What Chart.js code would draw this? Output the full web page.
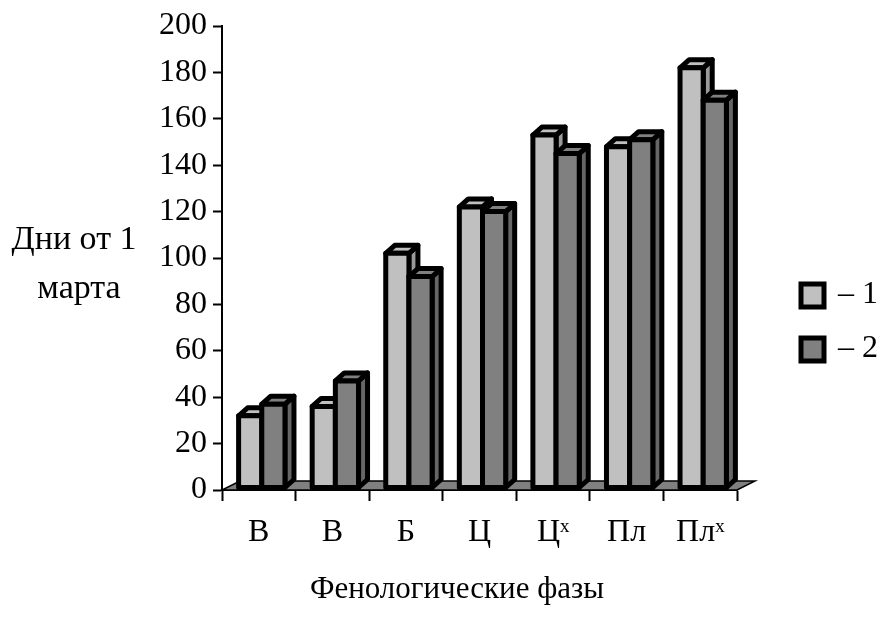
<!DOCTYPE html>
<html>
<head>
<meta charset="utf-8">
<script src="https://cdn.jsdelivr.net/npm/chart.js@4.4.0/dist/chart.umd.min.js"></script>
<style>
  html, body { margin: 0; padding: 0; background: #fff; }
</style>
</head>
<body>
<canvas id="chart" width="880" height="617"></canvas>
<script>
// data
const phases = ["В", "В", "Б", "Ц", "Цˣ", "Пл", "Плˣ"];
const series1 = [32, 36, 102, 122, 153, 148, 182];
const series2 = [37, 47, 92, 120, 145, 151, 168];
const seriesNames = ["– 1", "– 2"];
const yTitle = ["Дни от 1", "марта"];
const xTitle = "Фенологические фазы";

const serif = "'Liberation Serif', 'Times New Roman', serif";
const DX = 9, DY = 8;      // depth of the fake 3d boxes
const SHIFT = 3;
const FLOOR_DX = 18, FLOOR_DY = 9;

function darker(hex, f) {
  const n = parseInt(hex.slice(1), 16);
  const c = [(n >> 16) & 255, (n >> 8) & 255, n & 255].map(v => Math.round(v * f));
  return "rgb(" + c.join(",") + ")";
}

function poly(ctx, pts, fill) {
  ctx.beginPath();
  ctx.moveTo(pts[0][0], pts[0][1]);
  for (let i = 1; i < pts.length; i++) ctx.lineTo(pts[i][0], pts[i][1]);
  ctx.closePath();
  ctx.fillStyle = fill;
  ctx.fill();
  ctx.stroke();
}

const bars3d = {
  id: "bars3d",
  beforeDatasetsDraw(chart) {
    // grey floor under the columns
    const { ctx, chartArea: a } = chart;
    const y0 = chart.scales.y.getPixelForValue(0);
    ctx.save();
    ctx.lineWidth = 1.5;
    ctx.strokeStyle = "#000";
    poly(ctx, [[a.left, y0], [a.right, y0], [a.right + FLOOR_DX, y0 - FLOOR_DY], [a.left + FLOOR_DX, y0 - FLOOR_DY]], "#808080");
    ctx.restore();
  },
  beforeDatasetDraw() {
    return false; // columns are drawn below, one category at a time
  },
  afterDatasetsDraw(chart) {
    const ctx = chart.ctx;
    ctx.save();
    ctx.lineWidth = 5;
    ctx.strokeStyle = "#000";
    ctx.lineJoin = "round";
    chart.data.labels.forEach((lab, i) => {
      chart.data.datasets.forEach((ds, d) => {
        const bar = chart.getDatasetMeta(d).data[i];
        const { x, y, base, width } = bar.getProps(["x", "y", "base", "width"], true);
        const l = x - width / 2 + SHIFT, r = x + width / 2 + SHIFT;
        const b = base - 2;
        poly(ctx, [[r, y], [r + DX, y - DY], [r + DX, b - DY], [r, b]], darker(ds.backgroundColor, 0.8));
        poly(ctx, [[l, y], [l + DX, y - DY], [r + DX, y - DY], [r, y]], ds.backgroundColor);
        poly(ctx, [[l, y], [r, y], [r, b], [l, b]], ds.backgroundColor);
      });
    });
    ctx.restore();
  },
  afterDraw(chart) {
    const ctx = chart.ctx;
    ctx.save();
    ctx.fillStyle = "#000";
    ctx.textAlign = "center";
    ctx.textBaseline = "middle";
    ctx.font = "34px " + serif;
    ctx.fillText(yTitle[0], 74, 240);
    ctx.fillText(yTitle[1], 79, 289);
    ctx.font = "31px " + serif;
    ctx.fillText(xTitle, 457, 590);

    // legend
    ctx.font = "32px " + serif;
    ctx.textAlign = "left";
    chart.data.datasets.forEach((ds, d) => {
      const cy = 295 + d * 54;
      ctx.lineWidth = 5;
      ctx.strokeStyle = "#000";
      ctx.fillStyle = ds.backgroundColor;
      ctx.fillRect(801, cy - 11, 23, 23);
      ctx.strokeRect(801, cy - 11, 23, 23);
      ctx.fillStyle = "#000";
      ctx.fillText(ds.label, 838, cy);
    });
    ctx.restore();
  }
};

new Chart(document.getElementById("chart"), {
  type: "bar",
  data: {
    labels: phases,
    datasets: [
      { label: seriesNames[0], data: series1, backgroundColor: "#C0C0C0" },
      { label: seriesNames[1], data: series2, backgroundColor: "#808080" }
    ]
  },
  options: {
    responsive: false,
    animation: false,
    devicePixelRatio: 1,
    layout: { padding: { left: 150, right: 143, top: 26, bottom: 0 } },
    datasets: { bar: { barPercentage: 1, categoryPercentage: 0.63 } },
    plugins: { legend: { display: false }, tooltip: { enabled: false } },
    scales: {
      x: {
        afterFit: s => { s.height = 127; },
        grid: { drawOnChartArea: false, tickLength: 11, tickColor: "#000", tickWidth: 2 },
        border: { color: "#000", width: 2 },
        ticks: { color: "#000", font: { family: serif, size: 32 }, padding: 12, maxRotation: 0 }
      },
      y: {
        min: 0,
        max: 200,
        afterFit: s => { s.width = 72; },
        grid: { drawOnChartArea: false, tickLength: 9, tickColor: "#000", tickWidth: 2 },
        border: { color: "#000", width: 2 },
        ticks: { stepSize: 20, color: "#000", font: { family: serif, size: 32 }, padding: 6 }
      }
    }
  },
  plugins: [bars3d]
});
</script>
</body>
</html>
